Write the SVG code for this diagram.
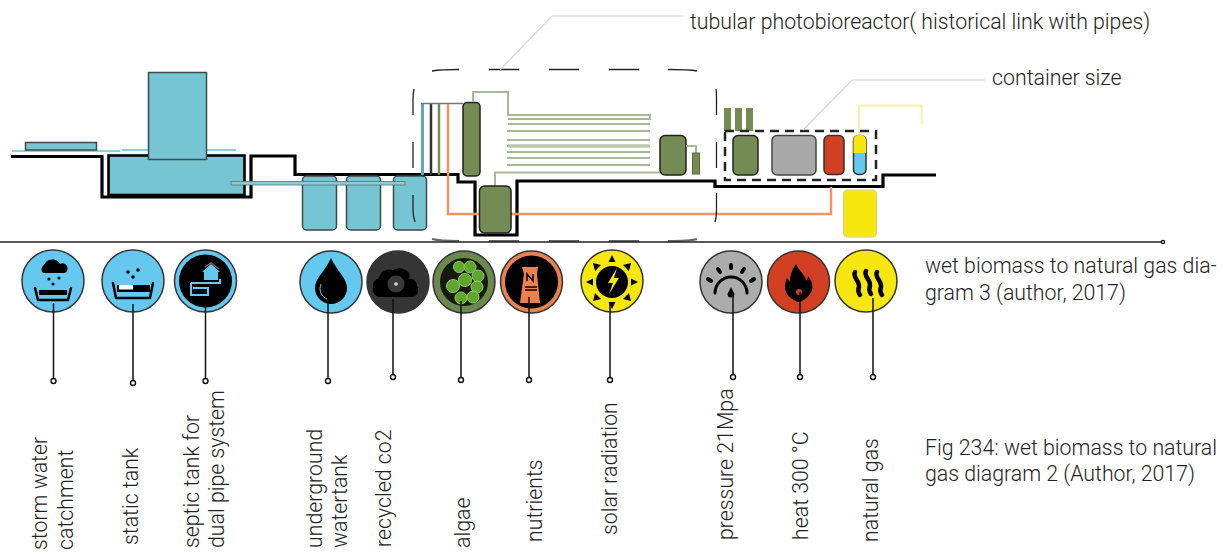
<svg xmlns="http://www.w3.org/2000/svg" width="1223" height="554" viewBox="0 0 1223 554">
<defs>
<style>
text{font-family:Roboto,"Liberation Sans",sans-serif;font-weight:300;font-size:21.300px;fill:#222}
.tl{fill:#76c5d3;stroke:#3d4a4c;stroke-width:1.5}
.gn{fill:#748b54;stroke:#222;stroke-width:1.5}
.gnd{fill:none;stroke:#000;stroke-width:3.2;stroke-linejoin:miter}
.pg{fill:none;stroke:#a9b898;stroke-width:2}
.lead{fill:none;stroke:#d4d4d4;stroke-width:1.2}
.ln{stroke:#111;stroke-width:1.5;fill:none}
.dot{fill:#fff;stroke:#111;stroke-width:1.4}
.ring{stroke:#333;stroke-width:1.5}
.k{fill:#000}
.ks{fill:none;stroke:#000;stroke-linecap:round}
</style>
</defs>
<g id="section">
<path d="M12 151H120M122 150H236" stroke="#8fcfda" stroke-width="1.800" fill="none"/>
<rect class="tl" x="25.500" y="142.500" width="71" height="7.500"/>
<rect x="108.500" y="155.500" width="136" height="39.500" fill="#76c5d3" stroke="#000" stroke-width="2.600"/>
<path d="M108 196H245" stroke="#000" stroke-width="3.500"/>
<rect class="tl" x="148.500" y="72.500" width="58" height="87"/>
<path class="gnd" d="M11 156.500H102V197H251V156H295V174.500H458V182H475V235H517V181H715V186.500H883V175H936"/>
<rect class="tl" x="302.500" y="176" width="34" height="54" rx="4"/>
<rect class="tl" x="346.500" y="176" width="34" height="54" rx="4"/>
<rect class="tl" x="393.500" y="176" width="33" height="54" rx="4"/>
<rect x="231" y="181.500" width="174" height="3.500" fill="#8ccbd6" stroke="#55767b" stroke-width="0.800"/>
<path d="M422.500 103V175" stroke="#5fa8bd" stroke-width="3"/>
<path d="M431 103V175" stroke="#333" stroke-width="2.500"/>
<path d="M439 103V175" stroke="#748b54" stroke-width="2.500"/>
<path d="M448 103V214H831V187" stroke="#ee9469" stroke-width="2.500" fill="none"/>
<path d="M421 103.500H463" stroke="#777" stroke-width="1.500"/>
<rect class="gn" x="463" y="102.500" width="17" height="73.500" rx="4"/>
<path class="pg" d="M473 102V92H508V115H650V119H508"/>
<path class="pg" d="M508 124H650M507 131H650M507 140H650M507 146H650M507 152H650M507 158H650M507 165H650M495 186V172.500H660"/>
<path d="M508 146H650" stroke="#bcc7ad" stroke-width="3.500"/>
<rect class="gn" x="479.500" y="186" width="31.500" height="47" rx="5"/>
<rect class="gn" x="660" y="135.500" width="26" height="39.500" rx="5"/>
<path class="pg" d="M686 146H696V153"/>
<rect x="692.500" y="153" width="7" height="21" fill="#748b54" stroke="#5a6b42"/>
<path d="M432 71C438 70 448 69.500 459 69.500M489 69.500H519M549 69.500H579M609 69.500H639M668 69.500C680 69.500 692 70 697 71M413 115V100C413 95 413.500 91 414 89M716 89C716.500 91 716.500 95 716.500 100V115M413 142V168M716.500 142V168M413 195V210C413 215 414 219 415 222M716.500 193V210C716.500 215 716 219 715 222" fill="none" stroke="#222" stroke-width="1.300"/>
<path d="M432 239C438 240.500 448 241 459 241M489 241H519M549 241H579M609 241H639M668 241C680 241 692 240.500 697 239" fill="none" stroke="#666" stroke-width="2"/>
<path d="M724 108h7v23h-7zM735 108h7v23h-7zM746 108h7v23h-7z" fill="#748b54"/>
<rect x="725" y="131" width="151" height="49" fill="none" stroke="#222" stroke-width="2.500" stroke-dasharray="9 6"/>
<rect class="gn" x="733" y="135.500" width="25" height="39.500" rx="5"/>
<rect x="772" y="135.500" width="44" height="39.500" rx="5" fill="#a9a9a9" stroke="#444" stroke-width="1.500"/>
<rect x="824" y="135.500" width="20" height="39" rx="5" fill="#d33f22" stroke="#333" stroke-width="1.500"/>
<path d="M859 135V105.500H921.500V124" fill="none" stroke="#f6f2a8" stroke-width="2"/>
<rect x="853.500" y="135.500" width="12.500" height="39" rx="5" fill="#64c8ef" stroke="#333" stroke-width="1.500"/>
<path d="M853.500 153V140a5 5 0 0 1 5-5h2.500a5 5 0 0 1 5 5v13z" fill="#f7e70f"/>
<rect x="843.500" y="190" width="33" height="47" rx="4" fill="#f7e70f" stroke="#d8d08a"/>
</g>
<g id="n-storm"><circle class="ring" cx="53" cy="281" r="31" fill="#64c8ef"/>
<path class="k" d="M43 273a5 5 0 0 1 1-8 9 9 0 0 1 16-1 5 5 0 0 1 5 9z"/><circle class="k" cx="49" cy="279" r="1.600"/><circle class="k" cx="59" cy="278" r="1.600"/><circle class="k" cx="53" cy="284" r="1.600"/>
<path class="ks" stroke-width="2.500" d="M35 288L38 300H68L71 288"/><rect class="k" x="39" y="290" width="28" height="5"/></g>
<g id="n-static"><circle class="ring" cx="133" cy="281" r="31" fill="#64c8ef"/>
<circle class="k" cx="128" cy="272" r="1.800"/><circle class="k" cx="138" cy="270" r="1.800"/><circle class="k" cx="133" cy="277" r="1.800"/>
<path class="ks" stroke-width="2.500" d="M113 283L116 298H150L153 283"/><rect x="117" y="285" width="33" height="7" class="k"/><rect x="119" y="285" width="14" height="4.500" fill="#fff"/></g>
<g id="n-septic"><circle cx="205.500" cy="281" r="31" fill="#64c8ef" stroke="#333" stroke-width="1.500"/><circle cx="205.500" cy="281" r="26.500" fill="#000"/>
<path d="M204 280v-8h-2l9-8 9 8h-2v8z" fill="#64c8ef"/><path d="M205 267l6-4 8 6" fill="none" stroke="#666" stroke-width="1.500"/>
<path d="M191 283H220V279M191 283V295H208V288H193" fill="none" stroke="#64c8ef" stroke-width="2"/></g>
<g id="n-underground"><circle class="ring" cx="331" cy="282" r="31" fill="#64c8ef"/>
<path class="k" d="M331 258C326 270 315 278 315 288a16 16 0 0 0 32 0C347 278 336 270 331 258z"/><path d="M321 284a11 11 0 0 0 6 15" fill="none" stroke="#64c8ef" stroke-width="1"/></g>
<g id="n-co2"><circle class="ring" cx="398" cy="282" r="31" fill="#353535"/>
<path class="k" d="M382 297a8 8 0 0 1 -9-10 9 9 0 0 1 6-9 11 11 0 0 1 14-8 12 12 0 0 1 17 5 7 7 0 0 1 -2 4 7 7 0 0 1 9 7 7 7 0 0 1 -5 11z"/><circle cx="396" cy="284" r="8.500" fill="#3a3a3a"/><circle cx="396" cy="284" r="1.800" fill="#ddd"/></g>
<g id="n-algae"><circle cx="464" cy="282" r="31" fill="#6c8750" stroke="#333" stroke-width="1.500"/><circle cx="464" cy="282" r="24" fill="#151a0e"/>
<g fill="#5fa52f" stroke="#96d05a" stroke-width="1"><circle cx="459" cy="267" r="5.500"/><circle cx="470" cy="267" r="6"/><circle cx="478" cy="276" r="6"/><circle cx="465" cy="280" r="6.500"/><circle cx="453" cy="286" r="6.500"/><circle cx="477" cy="287" r="6"/><circle cx="473" cy="297" r="6"/><circle cx="461" cy="298" r="6"/></g></g>
<g id="n-nutrients"><circle cx="531.500" cy="282" r="31" fill="#ec8150" stroke="#333" stroke-width="1.500"/><circle cx="531.500" cy="282" r="26.500" fill="#000"/>
<path d="M522 267H538L537 274L540 303H520L524 274z" fill="#ec8150"/><path d="M527 281V274L533 281V274" fill="none" stroke="#000" stroke-width="1.500"/><path d="M525 287H537M525 290H537" stroke="#000" stroke-width="1.300"/></g>
<g id="n-solar"><circle cx="612" cy="281" r="31" fill="#f7e70f" stroke="#333" stroke-width="1.500"/><circle cx="612" cy="282" r="16" fill="#000"/>
<path class="k" d="M612 255l3.500 7h-7zM612 309l3.500-7h-7zM586 282l7 3.500v-7zM638 282l-7 3.500v-7zM593 263l8 2-6 6zM631 263l-8 2 6 6zM593 301l8-2-6-6zM631 301l-8-2 6-6z"/><path d="M617 268l-9 15h5l-4 11 10-16h-5z" fill="#f7e70f"/></g>
<g id="n-pressure"><circle class="ring" cx="731" cy="282" r="31" fill="#acacac"/>
<path class="ks" stroke-width="3" d="M715 293A16 16 0 0 1 747 293"/><path class="ks" stroke-width="4" d="M708 279l3 2M718 269l2 3M731 265v3M744 269l-2 3M754 279l-3 2"/><path class="k" d="M731 287l3.500 7a3.500 3.500 0 0 1-7 0z"/></g>
<g id="n-heat"><circle class="ring" cx="798.500" cy="282" r="31" fill="#d33f22"/>
<path class="k" d="M796 264c3 7 9 10 10 17 1-1 2-3 2-5 5 6 6 13 2 18-3 4-8 8-11 8s-9-4-12-8c-3-5-2-12 0-16l3 4c0-7 2-12 6-18z"/><circle cx="799" cy="292" r="3" fill="#d33f22"/></g>
<g id="n-gas"><circle class="ring" cx="866" cy="281" r="31" fill="#f7e70f"/>
<path class="ks" stroke-width="4.500" d="M855 272c-3 5 5 9 4 15-1 2-1 5 1 8M866 271c-3 5 5 9 4 15-1 2-1 5 1 8M877 272c-3 5 5 9 4 15-1 2-1 5 1 8"/></g>
<g id="connectors">
<path class="lead" d="M500 70L552 16H683"/>
<path class="lead" d="M803 130L852 80H985"/>
<path d="M0 242H1163" stroke="#222" stroke-width="1.500" fill="none"/>
<circle class="dot" cx="1163" cy="242" r="1.600"/>
<path class="ln" d="M53.500 303V380M133 304V383M205.500 305V380M328 300V380M393 299V377M461 301V380M529 297V380M610 303V380M733 293V377M800 292V377M873 298V377"/>
<circle class="dot" cx="53.500" cy="381" r="2.500"/><circle class="dot" cx="133" cy="383" r="2.500"/><circle class="dot" cx="205.500" cy="381" r="2.500"/><circle class="dot" cx="328" cy="381" r="2.500"/><circle class="dot" cx="393" cy="377" r="2.500"/><circle class="dot" cx="461" cy="380" r="2.500"/><circle class="dot" cx="529" cy="380" r="2.500"/><circle class="dot" cx="610" cy="380" r="2.500"/><circle class="dot" cx="733" cy="377" r="2.500"/><circle class="dot" cx="800" cy="377" r="2.500"/><circle class="dot" cx="873" cy="377" r="2.500"/>
</g>
<g id="labels">
<text transform="translate(47 550) rotate(-90)">storm water</text>
<text transform="translate(73 550) rotate(-90)">catchment</text>
<text transform="translate(138 545) rotate(-90)">static tank</text>
<text transform="translate(199 548) rotate(-90)">septic tank for</text>
<text transform="translate(224 548) rotate(-90)">dual pipe system</text>
<text transform="translate(322 548) rotate(-90)">underground</text>
<text transform="translate(347 548) rotate(-90)">watertank</text>
<text transform="translate(391 547) rotate(-90)">recycled co2</text>
<text transform="translate(470 548) rotate(-90)">algae</text>
<text transform="translate(542 542) rotate(-90)">nutrients</text>
<text transform="translate(617 535) rotate(-90)">solar radiation</text>
<text transform="translate(733 540) rotate(-90)">pressure 21Mpa</text>
<text transform="translate(808 540) rotate(-90)">heat 300 °C</text>
<text transform="translate(878 542) rotate(-90)">natural gas</text>
<text x="690" y="29">tubular photobioreactor( historical link with pipes)</text>
<text x="992" y="85">container size</text>
<text x="925" y="273">wet biomass to natural gas dia-</text>
<text x="925" y="300">gram 3 (author, 2017)</text>
<text x="925" y="455">Fig 234: wet biomass to natural</text>
<text x="925" y="481">gas diagram 2 (Author, 2017)</text>
</g>
</svg>
